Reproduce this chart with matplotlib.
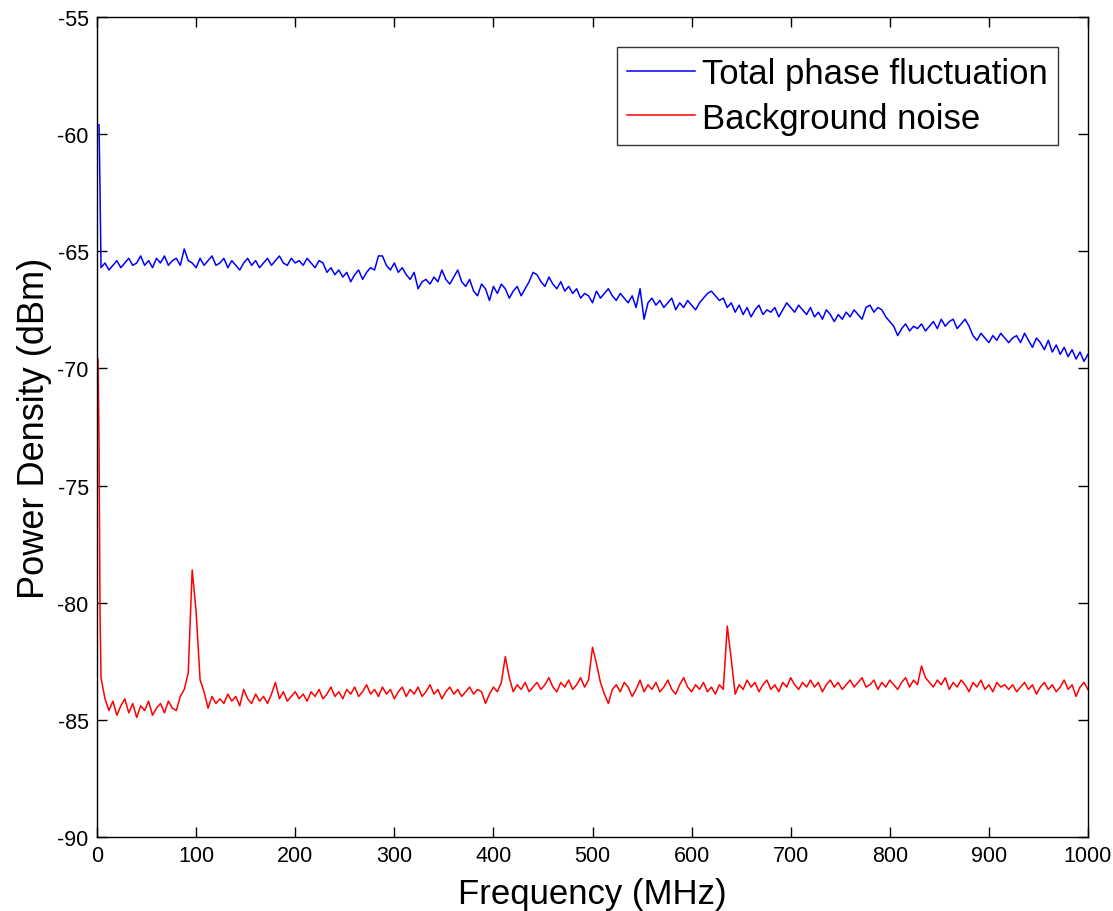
import numpy as np
import matplotlib
matplotlib.use("Agg")
import matplotlib.pyplot as plt

plt.rcParams['font.family'] = ['Liberation Sans', 'DejaVu Sans']

# ---- data -------------------------------------------------------------
grid_freq = np.arange(4, 1001, 4)  # sample frequencies (MHz) for main body

blue_head_freq = [0, 2, 3]
blue_head_vals = [-59.6, -59.6, -62.4]
blue_vals = [
    -65.7, -65.5, -65.8, -65.6, -65.4, -65.7, -65.5, -65.3, -65.6, -65.5,
    -65.2, -65.6, -65.4, -65.7, -65.3, -65.5, -65.2, -65.6, -65.4, -65.3,
    -65.6, -64.9, -65.4, -65.5, -65.7, -65.3, -65.6, -65.4, -65.2, -65.6,
    -65.5, -65.3, -65.7, -65.4, -65.6, -65.8, -65.5, -65.3, -65.6, -65.4,
    -65.7, -65.5, -65.3, -65.6, -65.4, -65.2, -65.5, -65.6, -65.3, -65.5,
    -65.4, -65.6, -65.3, -65.5, -65.7, -65.4, -65.5, -65.9, -65.7, -66.0,
    -65.8, -66.1, -65.9, -66.3, -66.0, -65.8, -66.2, -65.9, -65.7, -65.8,
    -65.2, -65.2, -65.6, -65.8, -65.5, -65.9, -65.7, -66.0, -66.2, -65.9,
    -66.6, -66.3, -66.2, -66.4, -66.1, -66.3, -65.8, -66.2, -66.4, -66.1,
    -65.8, -66.3, -66.5, -66.2, -66.7, -66.9, -66.4, -66.6, -67.1, -66.5,
    -66.8, -66.4, -66.6, -67.0, -66.7, -66.5, -66.9, -66.6, -66.3, -65.9,
    -66.0, -66.3, -66.5, -66.1, -66.4, -66.6, -66.3, -66.7, -66.5, -66.8,
    -66.6, -67.0, -66.8, -66.9, -67.2, -66.7, -67.0, -66.8, -66.6, -66.9,
    -67.1, -66.8, -67.0, -67.2, -66.9, -67.4, -66.6, -67.9, -67.2, -67.0,
    -67.3, -67.1, -67.4, -67.2, -67.0, -67.5, -67.2, -67.4, -67.1, -67.3,
    -67.5, -67.2, -67.0, -66.8, -66.7, -66.9, -67.1, -67.0, -67.4, -67.2,
    -67.6, -67.3, -67.7, -67.4, -67.8, -67.5, -67.3, -67.7, -67.5, -67.6,
    -67.4, -67.8, -67.5, -67.2, -67.4, -67.6, -67.3, -67.5, -67.7, -67.4,
    -67.8, -67.6, -67.9, -67.5, -67.7, -68.0, -67.7, -67.9, -67.6, -67.8,
    -67.5, -67.7, -67.9, -67.4, -67.3, -67.6, -67.4, -67.5, -67.8, -68.0,
    -68.2, -68.6, -68.3, -68.1, -68.4, -68.2, -68.3, -68.1, -68.4, -68.2,
    -68.0, -68.3, -67.9, -68.2, -68.0, -67.9, -68.3, -68.1, -67.9, -68.2,
    -68.6, -68.8, -68.5, -68.7, -68.9, -68.6, -68.8, -68.5, -68.7, -68.9,
    -68.7, -68.6, -68.9, -68.5, -68.8, -69.1, -68.7, -68.9, -69.2, -68.8,
    -69.3, -69.0, -69.4, -69.1, -69.5, -69.2, -69.6, -69.3, -69.7, -69.4,
]

red_head_freq = [0, 1, 2, 3]
red_head_vals = [-69.6, -69.6, -73.2, -80.5]
red_vals = [
    -83.2, -84.1, -84.6, -84.2, -84.8, -84.4, -84.1, -84.7, -84.3, -84.9,
    -84.4, -84.6, -84.2, -84.8, -84.5, -84.3, -84.7, -84.2, -84.5, -84.6,
    -84.0, -83.7, -83.0, -78.6, -80.4, -83.3, -83.8, -84.5, -84.0, -84.3,
    -84.1, -84.3, -83.9, -84.2, -84.0, -84.4, -83.7, -84.1, -84.3, -83.9,
    -84.2, -84.0, -84.3, -83.9, -83.4, -84.1, -83.8, -84.2, -84.0, -83.8,
    -84.1, -83.9, -84.2, -83.8, -84.0, -83.7, -84.1, -83.9, -83.6, -84.0,
    -83.8, -84.1, -83.7, -83.9, -83.6, -84.0, -83.8, -83.5, -83.9, -83.7,
    -84.0, -83.6, -83.9, -83.7, -84.1, -83.8, -83.6, -84.0, -83.7, -83.9,
    -83.6, -84.0, -83.8, -83.5, -83.9, -83.7, -84.1, -83.8, -83.6, -83.9,
    -83.7, -84.0, -83.8, -83.6, -83.9, -83.7, -83.8, -84.3, -83.9, -83.6,
    -83.8, -83.4, -82.3, -83.2, -83.8, -83.5, -83.7, -83.4, -83.8, -83.6,
    -83.4, -83.7, -83.5, -83.2, -83.6, -83.8, -83.4, -83.6, -83.3, -83.7,
    -83.5, -83.2, -83.6, -83.3, -81.9, -82.6, -83.4, -83.9, -84.3, -83.7,
    -83.5, -83.8, -83.4, -83.6, -84.0, -83.7, -83.3, -83.8, -83.5, -83.7,
    -83.4, -83.8, -83.6, -83.3, -83.7, -83.9, -83.5, -83.2, -83.6, -83.8,
    -83.5, -83.7, -83.4, -83.8, -83.6, -83.9, -83.5, -83.7, -81.0, -82.4,
    -83.9, -83.5, -83.7, -83.3, -83.6, -83.4, -83.8, -83.5, -83.3, -83.7,
    -83.5, -83.8, -83.4, -83.6, -83.2, -83.5, -83.7, -83.4, -83.6, -83.3,
    -83.6, -83.4, -83.8, -83.5, -83.3, -83.6, -83.4, -83.7, -83.5, -83.3,
    -83.6, -83.4, -83.2, -83.6, -83.5, -83.3, -83.7, -83.4, -83.6, -83.3,
    -83.5, -83.7, -83.4, -83.2, -83.6, -83.3, -83.5, -82.7, -83.2, -83.4,
    -83.6, -83.3, -83.5, -83.2, -83.7, -83.4, -83.6, -83.3, -83.5, -83.8,
    -83.4, -83.6, -83.3, -83.7, -83.5, -83.8, -83.4, -83.6, -83.5, -83.7,
    -83.5, -83.8, -83.6, -83.4, -83.7, -83.5, -83.9, -83.6, -83.4, -83.7,
    -83.5, -83.8, -83.6, -83.3, -83.7, -83.5, -84.0, -83.6, -83.4, -83.7,
]

series_labels = ["Total phase fluctuation", "Background noise"]
x_ticks = [0, 100, 200, 300, 400, 500, 600, 700, 800, 900, 1000]
y_ticks = [-90, -85, -80, -75, -70, -65, -60, -55]

# ---- figure -------------------------------------------------------------
fig = plt.figure(figsize=(11.13, 9.12), dpi=100)
ax = fig.add_axes([0.0872, 0.0811, 0.8903, 0.8992])

bx = np.concatenate([blue_head_freq, grid_freq])
by = np.concatenate([blue_head_vals, blue_vals])
rx = np.concatenate([red_head_freq, grid_freq])
ry = np.concatenate([red_head_vals, red_vals])

ax.plot(bx, by, color='#0000ff', lw=1.1, label=series_labels[0])
ax.plot(rx, ry, color='#ff0000', lw=1.1, label=series_labels[1])

ax.set_xlim(0, 1000)
ax.set_ylim(-90, -55)
ax.set_xticks(x_ticks)
ax.set_yticks(y_ticks)
ax.set_xticklabels([str(t) for t in x_ticks])
ax.set_yticklabels([str(t) for t in y_ticks])
ax.tick_params(direction='in', length=7, width=1, top=True, right=True,
               labelsize=15.5)
ax.tick_params(axis='x', pad=6)
ax.tick_params(axis='y', pad=6)
for s in ax.spines.values():
    s.set_linewidth(1.0)

ax.set_xlabel("Frequency (MHz)", fontsize=25, labelpad=8)
ax.set_ylabel("Power Density (dBm)", fontsize=26, labelpad=4)

leg = ax.legend(loc='upper right', bbox_to_anchor=(0.9697, 0.9634),
                fontsize=25, frameon=True, fancybox=False, handlelength=1.95,
                handletextpad=0.2, borderpad=0.3, labelspacing=0.32,
                borderaxespad=0)
leg.get_frame().set_edgecolor('black')
leg.get_frame().set_linewidth(1.0)

fig.savefig("out.png", dpi=100)
